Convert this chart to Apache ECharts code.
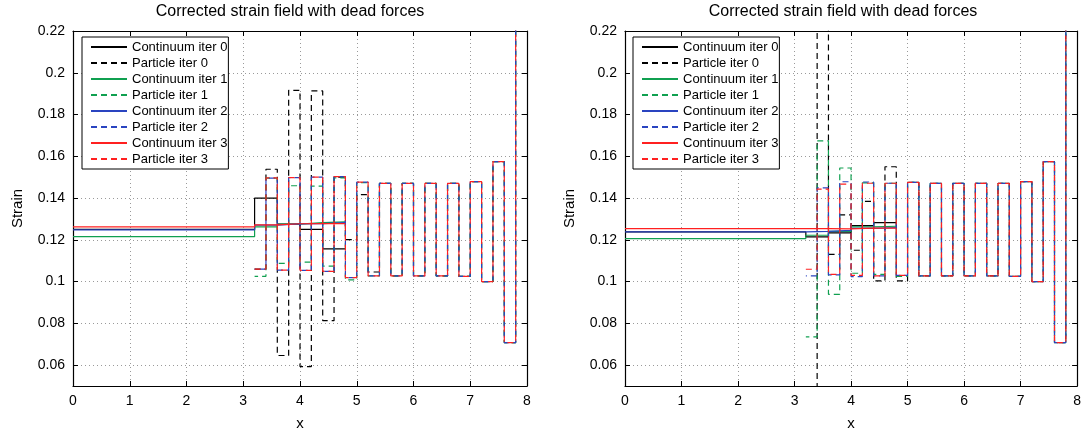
<!DOCTYPE html>
<html>
<head>
<meta charset="utf-8">
<title>Corrected strain field with dead forces</title>
<script src="https://cdn.jsdelivr.net/npm/echarts@6/dist/echarts.min.js"></script>
<style>
  html, body { margin: 0; padding: 0; background: #fff; }
  #chart { width: 1084px; height: 436px; }
</style>
</head>
<body>
<div id="chart"></div>
<script>
// ---- Data -------------------------------------------------------------
const seriesNames = [
  'Continuum iter 0', 'Particle iter 0',
  'Continuum iter 1', 'Particle iter 1',
  'Continuum iter 2', 'Particle iter 2',
  'Continuum iter 3', 'Particle iter 3'
];
const strainTicks = [0.06, 0.08, 0.10, 0.12, 0.14, 0.16, 0.18, 0.20, 0.22];

// Element edges of the continuum region and bond edges of the particle region
const continuumEdges = [0, 3.2, 3.6, 4.0, 4.4, 4.8];
const particleEdges = [3.2, 3.4, 3.6, 3.8, 4.0, 4.2, 4.4, 4.6, 4.8, 5.0, 5.2, 5.4,
                       5.6, 5.8, 6.0, 6.2, 6.4, 6.6, 6.8, 7.0, 7.2, 7.4, 7.6, 7.8, 8.0];

// Left panel: continuum strain per element
const leftContinuum0 = [0.1250, 0.1400, 0.1275, 0.1250, 0.1157];
const leftContinuum1 = [0.1215, 0.1262, 0.1275, 0.1282, 0.1286];
const leftContinuum2 = [0.1248, 0.1270, 0.1276, 0.1278, 0.1282];
const leftContinuum3 = [0.1262, 0.1272, 0.1277, 0.1278, 0.1278];

// Left panel: particle strain per bond
const leftParticle0 = [0.1060, 0.1538, 0.0646, 0.1916, 0.0593, 0.1913, 0.0813, 0.1500,
                       0.1201, 0.1416, 0.1046, 0.1470, 0.1027, 0.1470, 0.1027, 0.1470,
                       0.1027, 0.1470, 0.1025, 0.1479, 0.1000, 0.1574, 0.0708, 0.2600];
const leftParticle1 = [0.1025, 0.1495, 0.1087, 0.1459, 0.1093, 0.1457, 0.1074, 0.1497,
                       0.1008, 0.1474, 0.1027, 0.1470, 0.1027, 0.1470, 0.1027, 0.1470,
                       0.1027, 0.1470, 0.1025, 0.1479, 0.1000, 0.1574, 0.0708, 0.2600];
const leftParticle2 = [0.1060, 0.1495, 0.1055, 0.1498, 0.1054, 0.1500, 0.1049, 0.1503,
                       0.1019, 0.1476, 0.1027, 0.1470, 0.1027, 0.1470, 0.1027, 0.1470,
                       0.1027, 0.1470, 0.1025, 0.1479, 0.1000, 0.1574, 0.0708, 0.2600];
const leftParticle3 = [0.1060, 0.1497, 0.1055, 0.1498, 0.1054, 0.1500, 0.1049, 0.1503,
                       0.1019, 0.1476, 0.1027, 0.1470, 0.1027, 0.1470, 0.1027, 0.1470,
                       0.1027, 0.1470, 0.1025, 0.1479, 0.1000, 0.1574, 0.0708, 0.2600];

// Right panel: continuum strain per element
const rightContinuum0 = [0.1238, 0.1214, 0.1233, 0.1268, 0.1282];
const rightContinuum1 = [0.1206, 0.1222, 0.1240, 0.1262, 0.1265];
const rightContinuum2 = [0.1238, 0.1240, 0.1245, 0.1255, 0.1258];
const rightContinuum3 = [0.1254, 0.1254, 0.1252, 0.1256, 0.1256];

// Right panel: particle strain per bond
const rightParticle0 = [0.0300, 0.2600, 0.1130, 0.1319, 0.1150, 0.1384, 0.1003, 0.1550,
                        0.1003, 0.1475, 0.1027, 0.1470, 0.1027, 0.1470, 0.1027, 0.1470,
                        0.1027, 0.1470, 0.1025, 0.1479, 0.1000, 0.1574, 0.0708, 0.2600];
const rightParticle1 = [0.0735, 0.1674, 0.0939, 0.1544, 0.1040, 0.1473, 0.1035, 0.1471,
                        0.1025, 0.1475, 0.1027, 0.1470, 0.1027, 0.1470, 0.1027, 0.1470,
                        0.1027, 0.1470, 0.1025, 0.1479, 0.1000, 0.1574, 0.0708, 0.2600];
const rightParticle2 = [0.1027, 0.1449, 0.1032, 0.1478, 0.1024, 0.1477, 0.1027, 0.1471,
                        0.1030, 0.1475, 0.1027, 0.1470, 0.1027, 0.1470, 0.1027, 0.1470,
                        0.1027, 0.1470, 0.1025, 0.1479, 0.1000, 0.1574, 0.0708, 0.2600];
const rightParticle3 = [0.1059, 0.1443, 0.1035, 0.1467, 0.1030, 0.1471, 0.1027, 0.1471,
                        0.1030, 0.1475, 0.1027, 0.1470, 0.1027, 0.1470, 0.1027, 0.1470,
                        0.1027, 0.1470, 0.1025, 0.1479, 0.1000, 0.1574, 0.0708, 0.2600];

// ---- Styling -----------------------------------------------------------
const FONT = '"Liberation Sans", Arial, Helvetica, sans-serif';
const iterColors = ['#000000', '#10a050', '#2a44c0', '#ff2020'];
const dashOffsets = [0, 2.5, 5, 0];

// Staircase points: each value holds from its edge to the next one
function stairs(edges, values) {
  const pts = values.map((v, i) => [edges[i], v]);
  pts.push([edges[edges.length - 1], values[values.length - 1]]);
  return pts;
}

function panelSeries(axisIndex, continuum, particles) {
  const out = [];
  for (let k = 0; k < 4; k++) {
    out.push({
      name: seriesNames[2 * k], type: 'line', step: 'end',
      xAxisIndex: axisIndex, yAxisIndex: axisIndex,
      symbol: 'none', silent: true, animation: false,
      data: stairs(continuumEdges, continuum[k]),
      lineStyle: { color: iterColors[k], width: 1.2, type: 'solid' },
      itemStyle: { color: iterColors[k] }
    });
    out.push({
      name: seriesNames[2 * k + 1], type: 'line', step: 'end',
      xAxisIndex: axisIndex, yAxisIndex: axisIndex,
      symbol: 'none', silent: true, animation: false,
      data: stairs(particleEdges, particles[k]),
      lineStyle: { color: iterColors[k], width: 1.2, type: [6, 4], dashOffset: dashOffsets[k] },
      itemStyle: { color: iterColors[k] }
    });
  }
  return out;
}

const gridLine = { show: true, lineStyle: { color: '#9a9a9a', width: 1, type: [1, 3] } };
const boxLine = { show: true, onZero: false, lineStyle: { color: '#000', width: 1.2 } };
const tickIn = { show: true, inside: true, length: 5, lineStyle: { color: '#000', width: 1 } };

function xAxes(gridIndex) {
  return [
    {
      gridIndex, type: 'value', min: 0, max: 8, interval: 1, position: 'bottom',
      axisLine: boxLine, axisTick: tickIn, splitLine: gridLine,
      axisLabel: { color: '#000', fontSize: 14, fontFamily: FONT, margin: 8 },
      name: 'x', nameLocation: 'middle', nameGap: 30,
      nameTextStyle: { color: '#000', fontSize: 15, fontFamily: FONT }
    },
    {
      gridIndex, type: 'value', min: 0, max: 8, interval: 1, position: 'top',
      axisLine: boxLine, axisTick: tickIn, splitLine: { show: false },
      axisLabel: { show: false }
    }
  ];
}

function yAxes(gridIndex) {
  return [
    {
      gridIndex, type: 'value', min: 0.05, max: 0.22, position: 'left',
      axisLine: boxLine,
      axisTick: Object.assign({ customValues: strainTicks }, tickIn),
      splitLine: gridLine,
      axisLabel: {
        customValues: strainTicks, color: '#000', fontSize: 14, fontFamily: FONT, margin: 8,
        formatter: v => String(Math.round(v * 100) / 100)
      },
      name: 'Strain', nameLocation: 'middle', nameRotate: 90, nameGap: 48,
      nameTextStyle: { color: '#000', fontSize: 15, fontFamily: FONT }
    },
    {
      gridIndex, type: 'value', min: 0.05, max: 0.22, position: 'right',
      axisLine: boxLine,
      axisTick: Object.assign({ customValues: strainTicks }, tickIn),
      splitLine: { show: false }, axisLabel: { show: false }
    }
  ];
}

// Legend entries show only the line sample (no marker), with an aligned dash phase
const legendItems = seriesNames.map(name => ({ name, lineStyle: { dashOffset: 0 } }));

function legendAt(left) {
  return {
    orient: 'vertical', left: left, top: 37,
    data: legendItems,
    itemWidth: 36, itemHeight: 10, itemGap: 0, itemTextGap: 5,
    itemStyle: { opacity: 0 },
    padding: [2, 1, 2, 8],
    backgroundColor: '#fff', borderColor: '#000', borderWidth: 1, borderRadius: 0,
    textStyle: { color: '#000', fontSize: 13, fontFamily: FONT, lineHeight: 16 },
    selectedMode: false
  };
}

const chart = echarts.init(document.getElementById('chart'), null, { renderer: 'canvas' });

const axesLeftX = xAxes(0), axesRightX = xAxes(1);
const axesLeftY = yAxes(0), axesRightY = yAxes(1);

chart.setOption({
  backgroundColor: '#fff',
  animation: false,
  textStyle: { fontFamily: FONT },
  title: [
    { text: 'Corrected strain field with dead forces', left: 290, top: 4, padding: 0, textAlign: 'center',
      textStyle: { color: '#000', fontSize: 16, fontWeight: 'normal', fontFamily: FONT } },
    { text: 'Corrected strain field with dead forces', left: 843, top: 4, padding: 0, textAlign: 'center',
      textStyle: { color: '#000', fontSize: 16, fontWeight: 'normal', fontFamily: FONT } }
  ],
  grid: [
    { left: 73, top: 31, width: 454, height: 356 },
    { left: 625, top: 31, width: 454, height: 356 }
  ],
  // axis order: [left-bottom, left-top, right-bottom, right-top]
  xAxis: [axesLeftX[0], axesLeftX[1], axesRightX[0], axesRightX[1]],
  yAxis: [axesLeftY[0], axesLeftY[1], axesRightY[0], axesRightY[1]],
  legend: [legendAt(82), legendAt(633)],
  series: [].concat(
    panelSeries(0,
      [leftContinuum0, leftContinuum1, leftContinuum2, leftContinuum3],
      [leftParticle0, leftParticle1, leftParticle2, leftParticle3]),
    panelSeries(2,
      [rightContinuum0, rightContinuum1, rightContinuum2, rightContinuum3],
      [rightParticle0, rightParticle1, rightParticle2, rightParticle3])
  )
});
</script>
</body>
</html>
